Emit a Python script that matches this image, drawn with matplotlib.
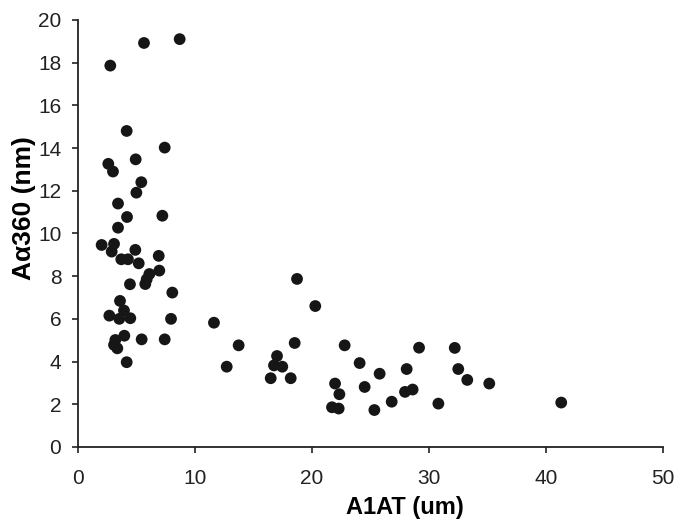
import matplotlib.pyplot as plt
import numpy as np

plt.rcParams['font.family'] = ['Liberation Sans', 'DejaVu Sans']

# --- data ---
a1at = [5.64, 8.69, 2.76, 4.16, 7.41, 2.59, 2.99, 4.93, 5.41, 4.99,
        3.42, 4.19, 7.21, 3.42, 2.02, 3.08, 2.88, 4.90, 3.70, 4.27,
        5.19, 6.90, 6.95, 6.10, 5.87, 5.75, 4.44, 8.06, 3.59, 2.68,
        3.93, 3.53, 4.47, 7.95, 11.62, 3.96, 3.19, 3.08, 3.36, 5.44,
        7.41, 4.16, 12.71, 13.73, 18.72, 20.28, 18.52, 17.01, 16.75, 17.46,
        16.47, 18.18, 22.79, 24.07, 25.78, 28.09, 29.15, 21.97, 24.50, 22.34,
        21.71, 22.28, 25.33, 26.81, 27.95, 28.60, 30.80, 32.20, 32.50, 33.27,
        35.15, 41.30]
aa360 = [18.92, 19.10, 17.86, 14.80, 14.02, 13.26, 12.90, 13.47, 12.40, 11.91,
         11.40, 10.77, 10.83, 10.27, 9.46, 9.51, 9.15, 9.23, 8.79, 8.79,
         8.60, 8.95, 8.26, 8.10, 7.85, 7.63, 7.62, 7.23, 6.84, 6.15,
         6.39, 6.00, 6.03, 6.00, 5.82, 5.21, 5.01, 4.78, 4.62, 5.04,
         5.04, 3.97, 3.76, 4.76, 7.87, 6.60, 4.87, 4.26, 3.82, 3.76,
         3.22, 3.22, 4.76, 3.93, 3.43, 3.65, 4.65, 2.97, 2.81, 2.47,
         1.86, 1.80, 1.73, 2.12, 2.58, 2.69, 2.03, 4.64, 3.65, 3.14,
         2.97, 2.08]

x_ticks = [0, 10, 20, 30, 40, 50]
y_ticks = [0, 2, 4, 6, 8, 10, 12, 14, 16, 18, 20]

fig = plt.figure(figsize=(6.86, 5.24), dpi=100)
ax = fig.add_axes([0.1137, 0.147, 0.8528, 0.815])

ax.scatter(a1at, aa360, s=72, color='#161616', edgecolors='none', zorder=3)

ax.set_xlim(0, 50)
ax.set_ylim(0, 20)
ax.set_xticks(x_ticks)
ax.set_yticks(y_ticks)

for side in ['top', 'right']:
    ax.spines[side].set_visible(False)
for side in ['left', 'bottom']:
    ax.spines[side].set_linewidth(1.3)
    ax.spines[side].set_color('#222222')

ax.tick_params(axis='both', direction='out', length=4, width=1.2,
               labelsize=15, colors='#222222')
ax.tick_params(axis='x', pad=12)
ax.tick_params(axis='y', pad=8)

# labels sit a bit off-centre, as in the original
ax.set_xlabel('A1AT (um)', fontsize=17, fontweight='bold')
ax.xaxis.set_label_coords(0.559, -0.115)
ax.set_ylabel('A\u03b1360 (nm)', fontsize=19, fontweight='bold')
ax.yaxis.set_label_coords(-0.072, 0.56)

fig.savefig('out.png', dpi=100)
